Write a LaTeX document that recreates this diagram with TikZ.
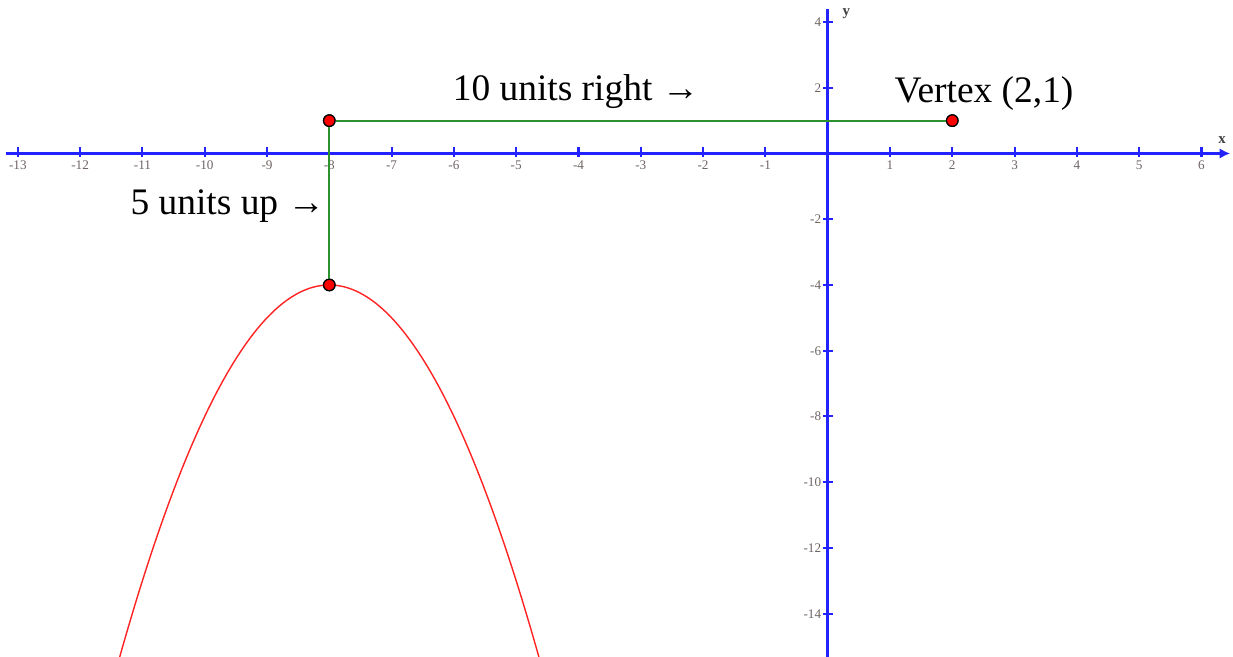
\documentclass[tikz,border=0pt]{standalone}
\usepackage{fontspec}
\setmainfont{Liberation Serif}
\usetikzlibrary{arrows.meta}
\definecolor{axisblue}{RGB}{35,35,255}
\definecolor{seggreen}{RGB}{45,145,45}
\definecolor{curvered}{RGB}{255,35,35}
\definecolor{ticklab}{RGB}{110,100,100}
\tikzset{
  axisline/.style={draw=axisblue,line width=1.5pt},
  tickline/.style={draw=axisblue,line width=1.2pt},
  ticklabel/.style={font=\fontsize{7.5}{8}\selectfont,text=ticklab,inner sep=0pt},
  seg/.style={draw=seggreen,line width=1.2pt},
  curve/.style={draw=curvered,line width=0.8pt},
  dot/.style={circle,fill=red,draw=black,line width=0.7pt,minimum size=0.23cm,inner sep=0pt},
  bigtext/.style={font=\fontsize{21.3}{24}\selectfont,inner sep=0pt},
  axlabel/.style={font=\fontsize{8.5}{9}\selectfont\bfseries,text=black!75,inner sep=0pt}
}
\begin{document}
\begin{tikzpicture}[x=1.246cm,y=0.6574cm]
\useasboundingbox (-13.286,-15.318) rectangle (6.506,4.670);
\begin{scope}
\clip (-13.286,-15.318) rectangle (6.506,4.670);
% axes
\coordinate (xl) at (-13.19,0);
\coordinate (xr) at (6.46,0);
\coordinate (yt) at (0,4.40);
\coordinate (yb) at (0,-15.5);
\draw[axisline,-{Latex[length=6pt,width=6pt]}] (xl) -- (xr);
\draw[axisline] (yb) -- (yt);
\foreach \i in {-13,...,-1,1,2,...,6}{
  \draw[tickline] (\i,0.2) -- (\i,-0.12);
  \node[ticklabel,anchor=north] at (\i,-0.2) {\i};
}
\foreach \j in {4,2,-2,-4,-6,-8,-10,-12,-14}{
  \draw[tickline] (-0.075,\j) -- (0.09,\j);
  \node[ticklabel,anchor=east] at (-0.1,\j) {\j};
}
\node[axlabel] (ylab) at (0.3,4.25) {y};
\node[axlabel] (xlab) at (6.33,0.42) {x};
% parabola
\draw[curve] plot[domain=-11.45:-4.55,samples=120,smooth] (\x,{-(\x+8)*(\x+8)-4});
% points
\node[dot] (P) at (-8,-4) {};
\node[dot] (Q) at (-8,1) {};
\node[dot] (V) at (2,1) {};
\draw[seg] (P) -- (Q);
\draw[seg] (Q) -- (V);
\node[dot] at (-8,-4) {};
\node[dot] at (-8,1) {};
\node[dot] at (2,1) {};
% labels
\node[bigtext] (t1) at (-4.04,1.87) {10 units right →};
\node[bigtext] (t2) at (2.51,1.84) {Vertex (2,1)};
\node[bigtext] (t3) at (-9.63,-1.6) {5 units up →};
\end{scope}
\end{tikzpicture}
\end{document}
